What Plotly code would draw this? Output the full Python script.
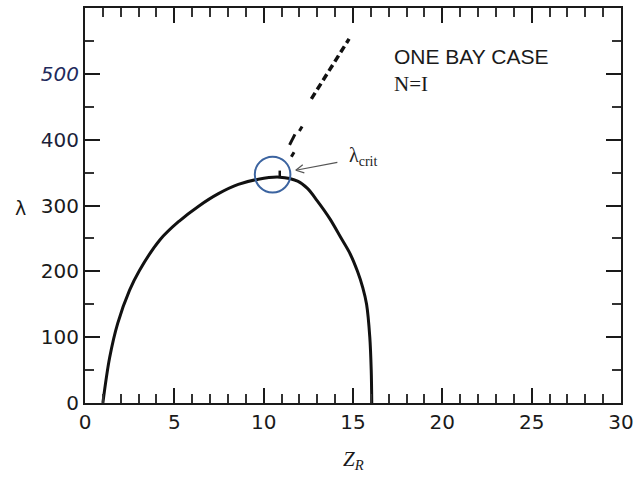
import math
import plotly.graph_objects as go

# Stability boundary, one bay case
z_curve = [1.0, 1.38, 1.83, 2.49, 3.04, 4.2, 5.26, 6.36, 7.47, 8.58, 9.7,
           10.9, 11.9, 12.45, 13.0, 13.7, 14.3, 14.85, 15.25, 15.55, 15.76,
           15.94, 16.02, 16.05]
lam_curve = [0, 69, 121, 171, 201, 248, 276, 299, 318, 332, 340,
             343, 337, 326, 307, 280, 252, 226, 200, 175, 150,
             100, 50, 0]

# Dashed branch above the critical point
z_branch = [12.67, 14.78]
lam_branch = [462, 553]

# Short fragments of the branch just above the critical point
frag_z = [11.45, 11.75, None, 12.0, 12.15, None, 11.55, 11.7]
frag_lam = [392, 408, None, 413, 420, None, 374, 381]

# Critical point
z_crit = 10.9
lam_crit = 343

x_ticks = [0, 5, 10, 15, 20, 25, 30]
y_ticks = [0, 100, 200, 300, 400, 500]
y_ticktext = ["0", "100", "200", "300",
              "<span style='color:#1c1f3a'>400</span>",
              "<i><span style='color:#1f2b5c'>500</span></i>"]

X_RANGE = [0, 30]
Y_RANGE = [0, 600]
W, H = 640, 480
M = dict(l=85, r=13, t=6, b=77)
plot_w = W - M["l"] - M["r"]
plot_h = H - M["t"] - M["b"]
ux = (X_RANGE[1] - X_RANGE[0]) / plot_w   # data units per pixel
uy = (Y_RANGE[1] - Y_RANGE[0]) / plot_h

fig = go.Figure()

fig.add_trace(go.Scatter(x=z_curve, y=lam_curve, mode="lines",
                         line=dict(color="#111111", width=3, shape="spline", smoothing=1.0),
                         hoverinfo="skip", showlegend=False))
fig.add_trace(go.Scatter(x=z_branch, y=lam_branch, mode="lines",
                         line=dict(color="#111111", width=3.5, dash="7px,4px"),
                         hoverinfo="skip", showlegend=False))
fig.add_trace(go.Scatter(x=frag_z, y=frag_lam, mode="lines",
                         line=dict(color="#111111", width=3),
                         hoverinfo="skip", showlegend=False))
# small mark at the critical point
fig.add_trace(go.Scatter(x=[z_crit, z_crit], y=[lam_crit, lam_crit + 10], mode="lines",
                         line=dict(color="#111111", width=2.5),
                         hoverinfo="skip", showlegend=False))

# circle around the critical point
r_px = 18
cz, cl = z_crit - 0.4, lam_crit + 4
fig.add_shape(type="circle", xref="x", yref="y",
              x0=cz - r_px * ux, x1=cz + r_px * ux,
              y0=cl - r_px * uy, y1=cl + r_px * uy,
              line=dict(color="#3c64a0", width=2))

# open arrow pointing at the circle
tip = (z_crit + 0.9, lam_crit + 10.5)
tail = (tip[0] + 42 * ux, tip[1] + 8 * uy)
dxp, dyp = (tail[0] - tip[0]) / ux, (tail[1] - tip[1]) / uy
length = (dxp ** 2 + dyp ** 2) ** 0.5
ex, ey = dxp / length, dyp / length
barb_len = 9
ang = math.radians(28)
barbs_x, barbs_y = [], []
for s in (1, -1):
    bx = ex * math.cos(s * ang) - ey * math.sin(s * ang)
    by = ex * math.sin(s * ang) + ey * math.cos(s * ang)
    barbs_x += [tip[0] + bx * barb_len * ux, tip[0], None]
    barbs_y += [tip[1] + by * barb_len * uy, tip[1], None]
fig.add_trace(go.Scatter(x=[tail[0], tip[0], None] + barbs_x,
                         y=[tail[1], tip[1], None] + barbs_y, mode="lines",
                         line=dict(color="#555555", width=1.2),
                         hoverinfo="skip", showlegend=False))

fig.add_annotation(x=tail[0] + 10 * ux, y=tail[1] + 6 * uy, xref="x", yref="y",
                   text="λ<sub>crit</sub>", showarrow=False, xanchor="left", yanchor="middle",
                   font=dict(family="Liberation Serif", size=20, color="#222222"))

fig.add_annotation(x=17.16, y=526, xref="x", yref="y", text="ONE BAY CASE",
                   showarrow=False, xanchor="left", yanchor="middle",
                   font=dict(family="Liberation Sans", size=21, color="#1a1a1a"))
fig.add_annotation(x=17.16, y=485, xref="x", yref="y", text="N=I",
                   showarrow=False, xanchor="left", yanchor="middle",
                   font=dict(family="Liberation Serif", size=21, color="#1a1a1a"))

# axis titles
fig.add_annotation(x=-0.12, y=0.494, xref="paper", yref="paper", text="λ",
                   showarrow=False, xanchor="center", yanchor="middle",
                   font=dict(family="DejaVu Sans", size=19, color="#1a1a1a"))
fig.add_annotation(x=0.5, y=-0.144, xref="paper", yref="paper", text="<i>Z<sub>R</sub></i>",
                   showarrow=False, xanchor="center", yanchor="middle",
                   font=dict(family="Liberation Serif", size=21, color="#1a1a1a"))

axis_common = dict(showgrid=False, zeroline=False, showline=True, linecolor="#1a1a1a",
                   linewidth=2.2, mirror="ticks", ticks="inside", tickcolor="#1a1a1a",
                   tickwidth=2, ticklen=15,
                   tickfont=dict(family="DejaVu Sans", size=20, color="#1a1a1a"))

fig.update_xaxes(range=X_RANGE, tickvals=x_ticks, ticktext=[str(v) for v in x_ticks],
                 minor=dict(dtick=1, ticklen=9, tickwidth=1.6, tickcolor="#333333",
                            ticks="inside", showgrid=False),
                 **axis_common)
fig.update_yaxes(range=Y_RANGE, tickvals=y_ticks, ticktext=y_ticktext,
                 minor=dict(dtick=50, ticklen=9, tickwidth=1.6, tickcolor="#333333",
                            ticks="inside", showgrid=False),
                 **axis_common)

fig.update_layout(width=W, height=H, margin=M, plot_bgcolor="white",
                  paper_bgcolor="white", showlegend=False)

fig.write_html("out.html")
